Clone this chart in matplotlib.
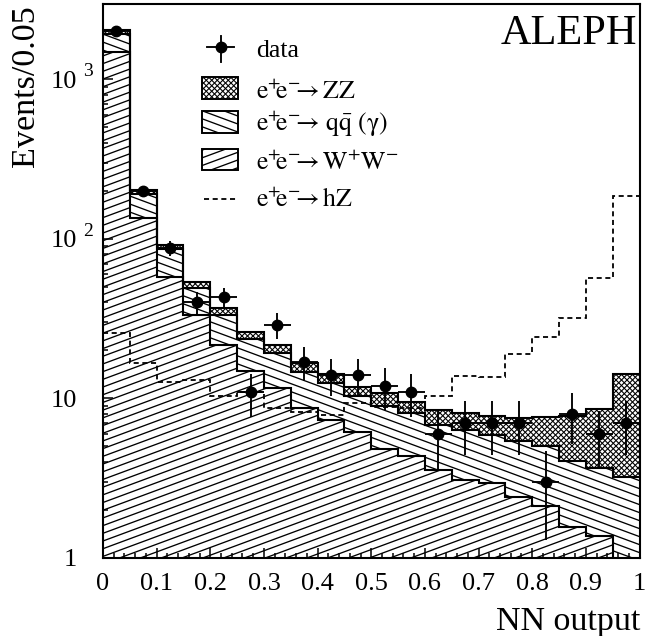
import numpy as np
import matplotlib
matplotlib.use("Agg")
import matplotlib.pyplot as plt
from matplotlib.collections import LineCollection
from matplotlib.patches import Rectangle
from matplotlib.ticker import FixedLocator, NullFormatter
from matplotlib.transforms import IdentityTransform

plt.rcParams['font.family'] = ['Liberation Serif', 'DejaVu Serif']
plt.rcParams['mathtext.fontset'] = 'stix'

edges = [round(i * 0.05, 2) for i in range(21)]
ww_top = [1480, 136, 58, 33.5, 21.5, 14.9, 11.7, 8.75, 7.35, 6.18,
          4.83, 4.37, 3.57, 3.09, 2.96, 2.42, 2.12, 1.57, 1.37, 0.8]
qq_top = [1920, 190, 86, 49, 33.5, 23.7, 19.4, 14.7, 12.5, 10.3,
          9.0, 8.1, 6.84, 6.36, 5.9, 5.4, 5.05, 4.06, 3.67, 3.22]
zz_top = [2030, 204, 92, 54, 37, 26, 21.7, 16.7, 14.3, 11.8,
          10.9, 9.5, 8.5, 8.1, 7.8, 7.57, 7.7, 7.8, 8.6, 14.3]
hz = [25.8, 16.7, 12.7, 13.1, 10.3, 11, 8.75, 8.25, 7.9, 9.4,
      8.9, 8.7, 10.3, 13.9, 13.7, 19.1, 24.4, 32, 57, 185]
data_x = [round(0.025 + i * 0.05, 3) for i in range(20)]
data_y = [2000, 200, 88, 40, 43, 11, 29, 17, 14, 14,
          12, 11, 6, 7, 7, 7, 3, 8, 6, 7]
data_err = [45, 14, 9.4, 6.3, 6.6, 3.3, 5.4, 4.1, 3.7, 3.7,
            3.5, 3.3, 2.4, 2.6, 2.6, 2.6, 1.7, 2.8, 2.4, 2.6]
x_ticks = [0, 0.1, 0.2, 0.3, 0.4, 0.5, 0.6, 0.7, 0.8, 0.9, 1]
x_labels = ['0', '0.1', '0.2', '0.3', '0.4', '0.5', '0.6', '0.7', '0.8', '0.9', '1']
y_ticks = [1, 10, 100, 1000]
y_labels = ['1', '10', '10', '10']
y_supers = ['', '', '2', '3']
legend_labels = ['data', r'$\mathrm{e^{+}\!\!e^{-}\!\!\!{\rightarrow}ZZ}$',
                 r'$\mathrm{e^{+}\!\!e^{-}\!\!\!{\rightarrow}\,q\bar{q}\ (\gamma)}$',
                 r'$\mathrm{e^{+}\!\!e^{-}\!\!\!{\rightarrow}W^{+}W^{-}}$',
                 r'$\mathrm{e^{+}\!\!e^{-}\!\!\!{\rightarrow}hZ}$']

W, H = 646, 636
L, R, T, B = 103, 639.5, 4, 558
fig = plt.figure(figsize=(W / 100, H / 100), dpi=100)
ax = fig.add_axes([L / W, 1 - B / H, (R - L) / W, (B - T) / H])
ax.set_xlim(0, 1)
ax.set_yscale('log')
ax.set_ylim(1, 2970)


def px(x, y):
    return (x / W, 1 - y / H)


def hatch_lines(clip, kind, z):
    """Hatch lines in display pixels, clipped to a patch (display y runs upward)."""
    specs = {'zz': [(1.0, 5.5, 0.8), (-1.0, 5.5, 0.8)],
             'qq': [(-0.37, 8.0, 0.95)],
             'ww': [(0.37, 7.7, 0.95)]}[kind]
    for slope, spacing, lw in specs:
        cs = np.arange(-3000, 3000, spacing)
        segs = [[(0, c), (W, slope * W + c)] for c in cs]
        lc = LineCollection(segs, colors='black', linewidths=lw,
                            transform=IdentityTransform(), zorder=z)
        ax.add_collection(lc, autolim=False)
        lc.set_clip_path(clip)


LOW = 0.5
p_ww = ax.stairs(ww_top, edges, baseline=LOW, fill=True, facecolor='white', edgecolor='none', zorder=1)
p_qq = ax.stairs(qq_top, edges, baseline=ww_top, fill=True, facecolor='white', edgecolor='none', zorder=1)
p_zz = ax.stairs(zz_top, edges, baseline=qq_top, fill=True, facecolor='white', edgecolor='none', zorder=1)
hatch_lines(p_ww, 'ww', 1.1)
hatch_lines(p_qq, 'qq', 1.1)
hatch_lines(p_zz, 'zz', 1.1)

for top in (ww_top, qq_top, zz_top):
    ax.stairs(top, edges, baseline=None, fill=False, edgecolor='black', linewidth=1.5, zorder=2)
ax.stairs(hz, edges, baseline=None, fill=False, edgecolor='black', linewidth=1.3,
          linestyle=(0, (2.8, 2.0)), zorder=2.5)

ax.errorbar(data_x, data_y, yerr=data_err, xerr=0.025, fmt='o', color='black', ms=7.5,
            elinewidth=1.35, capsize=0, zorder=4)

# axes furniture
for s in ax.spines.values():
    s.set_linewidth(1.5)
ax.xaxis.set_major_locator(FixedLocator(x_ticks))
ax.xaxis.set_minor_locator(FixedLocator([i * 0.02 for i in range(51)]))
ax.set_xticklabels(x_labels)
ax.yaxis.set_major_locator(FixedLocator(y_ticks))
ax.yaxis.set_minor_locator(FixedLocator([m * 10 ** e for e in range(4) for m in range(2, 10)
                                         if m * 10 ** e < 2970]))
ax.yaxis.set_minor_formatter(NullFormatter())
ax.set_yticklabels(y_labels)
ax.tick_params(which='major', direction='in', length=7.5, width=1.1, labelsize=19, top=False, right=False)
ax.tick_params(which='minor', direction='in', length=3.8, width=1.1, top=False, right=False)
ax.tick_params(axis='x', which='major', pad=11)
ax.tick_params(axis='y', which='major', pad=19)
for val, sup in zip(y_ticks, y_supers):
    if sup:
        ax.annotate(sup, xy=(0, val), xycoords=('axes fraction', 'data'), xytext=(-14.6, 2.2),
                    textcoords='offset points', fontsize=14, ha='left', va='baseline')

# texts
fx, fy = px(640, 630)
fig.text(fx, fy, 'NN output', ha='right', va='baseline', fontsize=24.5)
fx, fy = px(41, 5)
fig.text(fx, fy, 'Events/0.05', rotation=90, ha='right', va='top', fontsize=24.6)
fx, fy = px(637, 44)
fig.text(fx, fy, 'ALEPH', ha='right', va='baseline', fontsize=30.5)

# legend (drawn by hand, as in the original)
tr = fig.transFigure
lx0, ly0 = px(207, 47)
lx1, _ = px(234, 47)
_, ly2 = px(0, 36)
_, ly3 = px(0, 62)
mx, _ = px(221, 0)
fig.add_artist(plt.Line2D([lx0, lx1], [ly0, ly0], color='black', lw=1.35, transform=tr))
fig.add_artist(plt.Line2D([mx, mx], [ly2, ly3], color='black', lw=1.35, transform=tr))
fig.add_artist(plt.Line2D([mx], [ly0], marker='o', ms=7.5, color='black', transform=tr))

boxes = [(77, 99, 'zz'), (111, 133, 'qq'), (149, 170, 'ww')]
for y0, y1, kind in boxes:
    bx, by = px(202, y1)
    bw = 36 / W
    bh = (y1 - y0) / H
    rect = Rectangle((bx, by), bw, bh, transform=tr, facecolor='white', edgecolor='none', zorder=3)
    ax.add_patch(rect)
    rect.set_transform(tr)
    rect.set_clip_on(False)
    hatch_lines(rect, kind, 3.1)
    edge = Rectangle((bx, by), bw, bh, transform=tr, facecolor='none', edgecolor='black', linewidth=1.4)
    fig.add_artist(edge)

hx0, hy = px(204, 199)
hx1, _ = px(238, 199)
fig.add_artist(plt.Line2D([hx0, hx1], [hy, hy], color='black', lw=1.3, linestyle=(0, (2.8, 2.0)), transform=tr))

for lab, yb in zip(legend_labels, [57, 99, 131, 170, 207]):
    fx, fy = px(256, yb)
    fig.text(fx, fy, lab, ha='left', va='baseline', fontsize=18.5)

fig.savefig('out.png', dpi=100)
